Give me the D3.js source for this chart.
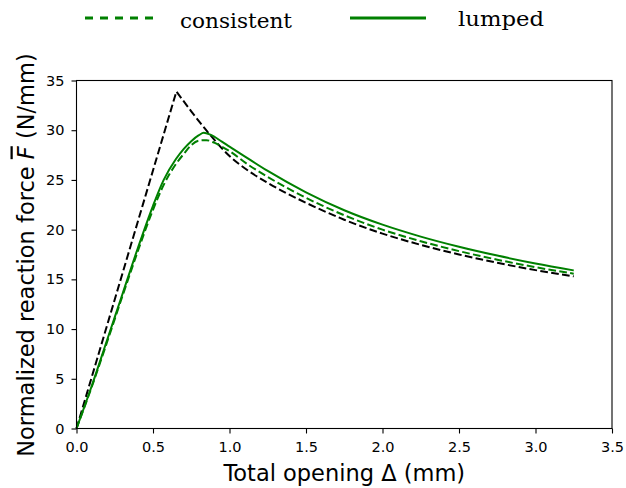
<!DOCTYPE html>
<html lang="en">
<head>
<meta charset="UTF-8">
<title>Normalized reaction force vs total opening</title>
<script src="https://d3js.org/d3.v7.min.js"></script>
<style>
    body { margin: 0; background: white; }
    .tick text { font-family: "DejaVu Sans", sans-serif; font-size: 14.5px; fill: black; }
    .tick line { stroke: black; stroke-width: 1.1; }
    .axis-label { font-family: "DejaVu Sans", sans-serif; font-size: 22.5px; fill: black; }
    .legend-text { font-family: "DejaVu Serif", serif; font-size: 21px; fill: black; }
</style>
</head>
<body>
<svg id="chart"></svg>
<script>
// reference curve (black dashed, no legend entry): loading branch then softening branch
var refUpDelta = [0, 0.653];
var refUpForce = [0, 33.9];
var refDownDelta = [0.653, 0.75, 0.875, 1.0, 1.125, 1.25, 1.5, 1.75, 2.0, 2.25, 2.5, 2.75, 3.0, 3.25];
var refDownForce = [33.9, 31.9, 29.5, 27.4, 25.9, 24.7, 22.7, 21.0, 19.6, 18.47, 17.5, 16.67, 15.93, 15.3];

// consistent mass (green dashed)
var consDelta = [0, 0.1, 0.2, 0.3, 0.4, 0.5, 0.57, 0.65, 0.7, 0.75, 0.8, 0.85, 0.9, 0.95, 1.0, 1.125, 1.25, 1.5, 1.75, 2.0, 2.25, 2.5, 2.75, 3.0, 3.25];
var consForce = [0, 4.2, 8.7, 13.3, 17.8, 22.0, 24.5, 26.6, 27.6, 28.5, 28.95, 29.0, 28.75, 28.35, 27.9, 26.5, 25.3, 23.2, 21.45, 20.0, 18.84, 17.84, 16.98, 16.22, 15.57];

// lumped mass (green solid)
var lumpDelta = [0, 0.1, 0.2, 0.3, 0.4, 0.5, 0.57, 0.65, 0.7, 0.75, 0.8, 0.832, 0.875, 0.95, 1.0, 1.071, 1.25, 1.5, 1.75, 2.0, 2.25, 2.5, 2.75, 3.0, 3.25];
var lumpForce = [0, 4.3, 8.9, 13.5, 18.1, 22.4, 25.0, 27.1, 28.1, 28.9, 29.5, 29.74, 29.55, 28.85, 28.35, 27.65, 25.9, 23.75, 21.95, 20.5, 19.3, 18.28, 17.39, 16.6, 15.9];

var xTicks = [0, 0.5, 1.0, 1.5, 2.0, 2.5, 3.0, 3.5];
var yTicks = [0, 5, 10, 15, 20, 25, 30, 35];

var svgWidth = 626;
var svgHeight = 488;
var plotLeft = 76.5, plotRight = 612, plotTop = 80.5, plotBottom = 428.5;

var svg = d3.select("#chart")
    .attr("width", svgWidth)
    .attr("height", svgHeight);

var xs = d3.scaleLinear().domain([0, 3.5]).range([plotLeft, plotRight]);
var ys = d3.scaleLinear().domain([0, 35]).range([plotBottom, plotTop]);

function pairs(dx, dy) {
    return dx.map(function(d, i) { return [d, dy[i]]; });
}

var smooth = d3.line()
    .x(function(d) { return xs(d[0]); })
    .y(function(d) { return ys(d[1]); })
    .curve(d3.curveMonotoneX);

var straight = d3.line()
    .x(function(d) { return xs(d[0]); })
    .y(function(d) { return ys(d[1]); });

// curves
// black: straight loading branch joined to a smooth softening branch, one path so the dashes run on
var refPath = straight(pairs(refUpDelta, refUpForce)) +
    smooth(pairs(refDownDelta, refDownForce)).replace(/^M[^C]*C/, "C");
svg.append("path")
    .attr("d", refPath)
    .attr("fill", "none")
    .attr("stroke", "black")
    .attr("stroke-width", 2)
    .attr("stroke-dasharray", "7.7,3.3");

svg.append("path")
    .datum(pairs(consDelta, consForce))
    .attr("d", smooth)
    .attr("fill", "none")
    .attr("stroke", "green")
    .attr("stroke-width", 2)
    .attr("stroke-dasharray", "7.7,3.3");

svg.append("path")
    .datum(pairs(lumpDelta, lumpForce))
    .attr("d", smooth)
    .attr("fill", "none")
    .attr("stroke", "green")
    .attr("stroke-width", 2);

// axes
svg.append("g")
    .attr("transform", "translate(0," + plotBottom + ")")
    .call(d3.axisBottom(xs).tickValues(xTicks).tickFormat(d3.format(".1f"))
        .tickSize(5).tickPadding(8).tickSizeOuter(0))
    .call(function(g) { g.select(".domain").remove(); });

svg.append("g")
    .attr("transform", "translate(" + plotLeft + ",0)")
    .call(d3.axisLeft(ys).tickValues(yTicks).tickFormat(d3.format("d"))
        .tickSize(5).tickPadding(7).tickSizeOuter(0))
    .call(function(g) { g.select(".domain").remove(); });

// frame
svg.append("rect")
    .attr("x", plotLeft)
    .attr("y", plotTop)
    .attr("width", plotRight - plotLeft)
    .attr("height", plotBottom - plotTop)
    .attr("fill", "none")
    .attr("stroke", "black")
    .attr("stroke-width", 1.1);

// axis labels
svg.append("text")
    .attr("class", "axis-label")
    .attr("x", (plotLeft + plotRight) / 2)
    .attr("y", 481)
    .attr("text-anchor", "middle")
    .text("Total opening \u0394 (mm)");

var ylab = svg.append("text")
    .attr("class", "axis-label")
    .attr("transform", "translate(33.5,255) rotate(-90)")
    .attr("text-anchor", "middle");
ylab.append("tspan").text("Normalized reaction force ");
ylab.append("tspan").attr("font-style", "italic")
    .style("text-decoration", "overline").text("F");
ylab.append("tspan").text(" (N/mm)");

// legend
var legend = svg.append("g");
legend.append("line")
    .attr("x1", 85).attr("x2", 158).attr("y1", 18).attr("y2", 18)
    .attr("stroke", "green").attr("stroke-width", 3)
    .attr("stroke-dasharray", "8,7");
legend.append("text")
    .attr("class", "legend-text")
    .attr("x", 180).attr("y", 28)
    .attr("textLength", 112).attr("lengthAdjust", "spacingAndGlyphs")
    .text("consistent");
legend.append("line")
    .attr("x1", 350).attr("x2", 426).attr("y1", 18).attr("y2", 18)
    .attr("stroke", "green").attr("stroke-width", 3);
legend.append("text")
    .attr("class", "legend-text")
    .attr("x", 458).attr("y", 26)
    .attr("textLength", 86).attr("lengthAdjust", "spacingAndGlyphs")
    .text("lumped");
</script>
</body>
</html>
